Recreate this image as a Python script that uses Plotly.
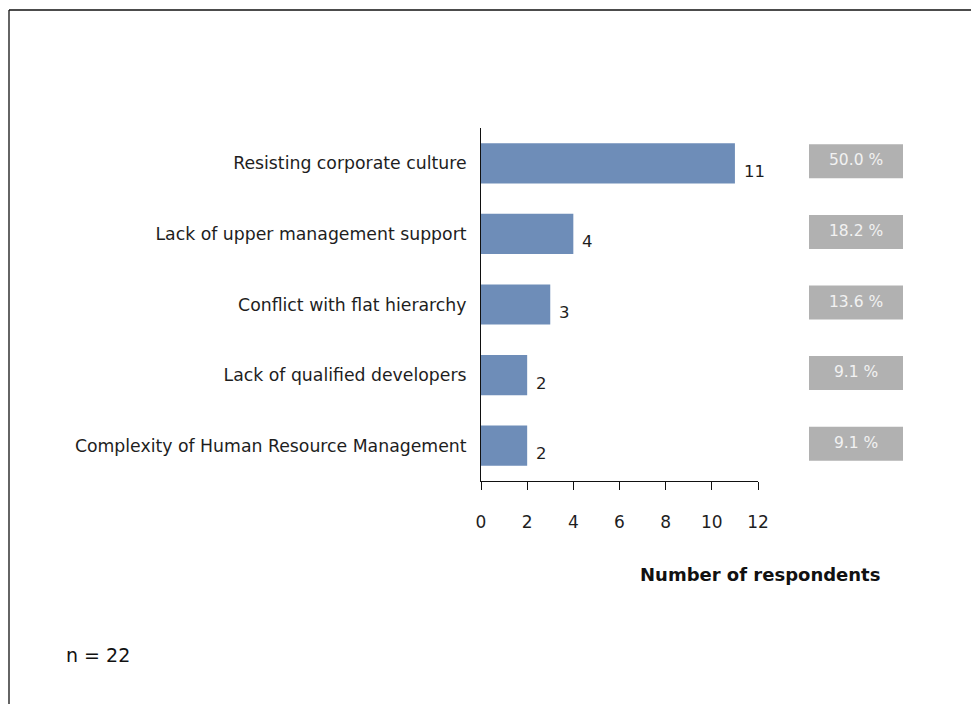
import plotly.graph_objects as go

# Survey results: obstacles reported by respondents
categories = [
    "Resisting corporate culture",
    "Lack of upper management support",
    "Conflict with flat hierarchy",
    "Lack of qualified developers",
    "Complexity of Human Resource Management",
]
counts = [11, 4, 3, 2, 2]
n_total = 22
x_ticks = [0, 2, 4, 6, 8, 10, 12]

BAR_COLOR = "#6e8db8"
BOX_COLOR = "#b1b1b1"
FONT = "DejaVu Sans"
TEXT_COLOR = "#1e1e1e"

W, H = 971, 704
L, R, T, B = 481, 213, 128, 223
plot_w = W - L - R
plot_h = H - T - B
unit_px = plot_h / len(categories)


def px_to_paper_x(px):
    return (px - L) / plot_w


def px_to_paper_y(py):
    return (H - B - py) / plot_h


fig = go.Figure()
fig.add_trace(go.Bar(
    x=counts,
    y=categories,
    orientation="h",
    marker=dict(color=BAR_COLOR, line=dict(width=0)),
    width=0.57,
    hoverinfo="skip",
))

annotations = []
shapes = []
box_half = 17 / unit_px
box_shift = 2 / unit_px
for i, (cat, v) in enumerate(zip(categories, counts)):
    # count next to the bar end
    annotations.append(dict(
        x=v, y=cat, xref="x", yref="y", text=str(v), showarrow=False,
        xanchor="left", yanchor="middle", xshift=7, yshift=-8,
        font=dict(family=FONT, size=16.5, color=TEXT_COLOR),
    ))
    # share of respondents in a grey box on the right
    pct = 100.0 * v / n_total
    shapes.append(dict(
        type="rect", xref="paper", yref="y",
        x0=px_to_paper_x(809), x1=px_to_paper_x(903),
        y0=i - box_half - box_shift, y1=i + box_half - box_shift,
        fillcolor=BOX_COLOR, line=dict(width=0), layer="above",
    ))
    annotations.append(dict(
        x=px_to_paper_x(856), y=cat, xref="paper", yref="y",
        text=f"{pct:.1f} %", showarrow=False, xanchor="center", yanchor="middle",
        yshift=3, font=dict(family=FONT, size=15.5, color="#f2f2f2"),
    ))

annotations.append(dict(
    x=px_to_paper_x(760), y=px_to_paper_y(574), xref="paper", yref="paper",
    text="<b>Number of respondents</b>", showarrow=False,
    xanchor="center", yanchor="middle",
    font=dict(family=FONT, size=18, color="#111111"),
))
annotations.append(dict(
    x=px_to_paper_x(64), y=px_to_paper_y(655), xref="paper", yref="paper",
    text=f"n = {n_total}", showarrow=False, xanchor="left", yanchor="middle",
    font=dict(family=FONT, size=19, color="#111111"),
))

# frame lines along the top and left edges
shapes.append(dict(type="line", xref="paper", yref="paper",
                   x0=px_to_paper_x(9), x1=px_to_paper_x(980),
                   y0=px_to_paper_y(10), y1=px_to_paper_y(10),
                   line=dict(color="#111111", width=1.3)))
shapes.append(dict(type="line", xref="paper", yref="paper",
                   x0=px_to_paper_x(9), x1=px_to_paper_x(9),
                   y0=px_to_paper_y(10), y1=px_to_paper_y(720),
                   line=dict(color="#111111", width=1.3)))

fig.update_layout(
    width=W, height=H,
    margin=dict(l=L, r=R, t=T, b=B, pad=0),
    paper_bgcolor="white", plot_bgcolor="white",
    showlegend=False,
    annotations=annotations,
    shapes=shapes,
    font=dict(family=FONT, size=17.5, color=TEXT_COLOR),
)
fig.update_xaxes(
    range=[0, 12], tickvals=x_ticks, ticktext=[str(t) for t in x_ticks],
    showgrid=False, zeroline=False, showline=True, linecolor="#111111",
    linewidth=1, ticks="outside", ticklen=8, tickcolor="#111111",
    ticklabelstandoff=18, tickfont=dict(family=FONT, size=17, color=TEXT_COLOR),
)
fig.update_yaxes(
    range=[len(categories) - 0.5, -0.5], showgrid=False, zeroline=False,
    showline=True, linecolor="#111111", linewidth=1, ticks="",
    ticklabelstandoff=10, tickfont=dict(family=FONT, size=17.3, color=TEXT_COLOR),
)

fig.write_html("out.html")
